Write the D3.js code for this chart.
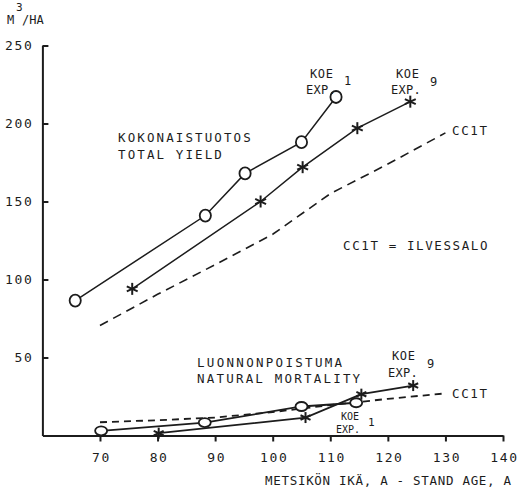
<!DOCTYPE html>
<html>
<head>
<meta charset="utf-8">
<script src="https://cdn.jsdelivr.net/npm/d3@7/dist/d3.min.js"></script>
<style>
  html, body { margin: 0; padding: 0; background: #fff; }
  svg { display: block; }
  text { font-family: "DejaVu Sans Mono", monospace; fill: #1c1c1c; }
</style>
</head>
<body>
<svg id="chart" width="521" height="490"></svg>
<script>
// Stand age (years) and volume (m3/ha)
const xTicks = [70, 80, 90, 100, 110, 120, 130, 140];
const yTicks = [50, 100, 150, 200, 250];

// Total yield
const totalExp1Age = [65.7, 88.3, 95.2, 105, 111];
const totalExp1Vol = [86.5, 141, 168, 188, 217];
const totalExp9Age = [75.6, 97.9, 105.2, 114.7, 123.9];
const totalExp9Vol = [94, 150, 172, 197, 214];
const totalCC1TAge = [70, 80, 90, 100, 110, 120, 130];
const totalCC1TVol = [70.5, 90.5, 109.5, 129, 155, 174, 194];

// Natural mortality
const mortExp1Age = [70.2, 88.2, 105, 114.5];
const mortExp1Vol = [3, 8.3, 18.6, 21];
const mortExp9Age = [80.2, 105.7, 115.4, 124.4];
const mortExp9Vol = [1.5, 11.5, 26.5, 32];
const mortCC1TAge = [70, 80, 90, 100, 110, 120, 130];
const mortCC1TVol = [8.5, 9.8, 11.5, 15, 19.5, 23.5, 27];

const zip = (a, b) => a.map((v, i) => [v, b[i]]);

const svg = d3.select("#chart");
const ink = "#1c1c1c";

const x = d3.scaleLinear().domain([60, 140]).range([42.4, 503]);
const y = d3.scaleLinear().domain([0, 250]).range([435.5, 45.5]);

// Axes
const gx = svg.append("g").attr("transform", `translate(0,${y(0)})`)
  .call(d3.axisBottom(x).tickValues(xTicks).tickSize(6).tickSizeOuter(0).tickPadding(11));
const gy = svg.append("g").attr("transform", `translate(${x(60)},0)`)
  .call(d3.axisLeft(y).tickValues(yTicks).tickSize(-6).tickSizeOuter(0).tickPadding(9));
[gx, gy].forEach(g => {
  g.select(".domain").attr("stroke", ink).attr("stroke-width", 2);
  g.selectAll(".tick line").attr("stroke", ink).attr("stroke-width", 2);
  g.selectAll(".tick text").attr("font-family", '"DejaVu Sans Mono", monospace')
    .attr("font-size", 13).attr("letter-spacing", 1.6).attr("fill", ink);
});
gx.selectAll(".tick text").attr("dx", 1);

const line = d3.line().x(d => x(d[0])).y(d => y(d[1]));

function series(pts, dash, width) {
  svg.append("path").attr("d", line(pts)).attr("fill", "none")
    .attr("stroke", ink).attr("stroke-width", width)
    .attr("stroke-dasharray", dash || null);
}

function circles(pts, rx, ry) {
  svg.append("g").selectAll("ellipse").data(pts).join("ellipse")
    .attr("cx", d => x(d[0])).attr("cy", d => y(d[1]))
    .attr("rx", rx).attr("ry", ry)
    .attr("fill", "#fff").attr("stroke", ink).attr("stroke-width", 1.8);
}

function stars(pts, r) {
  const arms = [90, 25, 155].map(a => a * Math.PI / 180);
  const g = svg.append("g");
  pts.forEach(d => {
    const cx = x(d[0]), cy = y(d[1]);
    arms.forEach(a => {
      g.append("line")
        .attr("x1", cx - r * Math.cos(a)).attr("y1", cy - r * Math.sin(a))
        .attr("x2", cx + r * Math.cos(a)).attr("y2", cy + r * Math.sin(a))
        .attr("stroke", ink).attr("stroke-width", 2);
    });
  });
}

// Total yield curves
series(zip(totalCC1TAge, totalCC1TVol), "9,6", 1.6);
series(zip(totalExp9Age, totalExp9Vol), null, 1.5);
series(zip(totalExp1Age, totalExp1Vol), null, 1.5);
stars(zip(totalExp9Age, totalExp9Vol), 6);
circles(zip(totalExp1Age, totalExp1Vol), 5.6, 6);

// Natural mortality curves
series(zip(mortCC1TAge, mortCC1TVol), "7,5", 1.8);
series(zip(mortExp9Age, mortExp9Vol), null, 1.8);
series(zip(mortExp1Age, mortExp1Vol), null, 1.8);
stars(zip(mortExp9Age, mortExp9Vol), 5.5);
circles(zip(mortExp1Age, mortExp1Vol), 6, 4.5);

// Text
function label(str, px, py, size, spacing, anchor) {
  svg.append("text").attr("x", px).attr("y", py)
    .attr("font-size", size).attr("letter-spacing", spacing)
    .attr("text-anchor", anchor || "start").text(str);
}

label("M", 7, 24, 12, 0);
label("3", 16, 11, 11, 0);
label("/HA", 22, 24, 12, 0);

label("KOKONAISTUOTOS", 118, 142, 12.5, 2.1);
label("TOTAL YIELD", 118, 159, 12.5, 2.1);

label("KOE", 310, 78, 12, 0.6);
label("EXP.", 306, 94, 12, 0.3);
label("1", 344, 85, 12, 0);
label("KOE", 396, 78, 12, 0.6);
label("EXP.", 391, 94, 12, 0.3);
label("9", 430, 86, 12, 0);
label("CC1T", 452, 135, 12.5, 1.6);

label("CC1T = ILVESSALO", 343, 250, 12.5, 1.6);

label("LUONNONPOISTUMA", 197, 367, 12.5, 2.3);
label("NATURAL MORTALITY", 197, 383, 12.5, 2.2);

label("KOE", 392, 360, 12, 0.6);
label("EXP.", 388, 377, 12, 0.3);
label("9", 427, 368, 12, 0);
label("CC1T", 452, 398, 12.5, 1.6);

label("KOE", 341, 420, 10, 0);
label("EXP.", 336, 433, 10, 0);
label("1", 368, 426, 11, 0);

label("METSIKÖN IKÄ, A - STAND AGE, A", 265, 485, 12.5, 0.7);
</script>
</body>
</html>
